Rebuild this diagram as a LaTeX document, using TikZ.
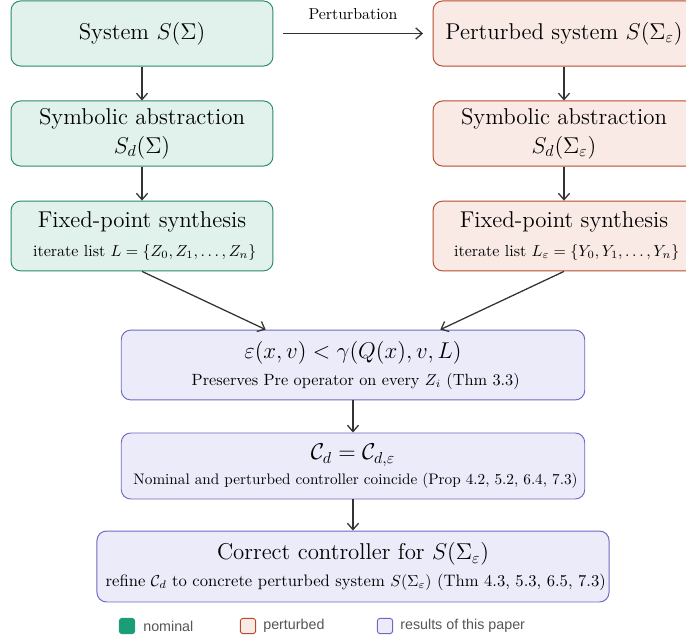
\documentclass[tikz,border=0pt]{standalone}
\usepackage{amsmath, amssymb}
\usepackage{fontspec}
\newfontfamily\legendfont{Liberation Sans}
\usepackage{tikz}
\usetikzlibrary{arrows.meta}

\definecolor{nomdraw}{HTML}{2A8A6A}
\definecolor{nomfill}{HTML}{E0F2EB}
\definecolor{nomsolid}{HTML}{1B9E77}
\definecolor{pertdraw}{HTML}{B84A2C}
\definecolor{pertfill}{HTML}{FAEAE5}
\definecolor{resdraw}{HTML}{6F68C4}
\definecolor{resfill}{HTML}{ECEBFA}
\definecolor{arrowgray}{HTML}{333333}
\definecolor{legendgray}{HTML}{555555}

\tikzset{
    box/.style={rounded corners=6pt, line width=0.6pt, align=center, inner sep=0pt},
    nombox/.style={box, draw=nomdraw, fill=nomfill, minimum width=165pt},
    pertbox/.style={box, draw=pertdraw, fill=pertfill, minimum width=165pt},
    resbox/.style={box, draw=resdraw, fill=resfill},
    flow/.style={-{Straight Barb[length=4pt,width=7pt]}, draw=arrowgray, line width=0.8pt},
    legbox/.style={rounded corners=1.5pt, line width=0.6pt, minimum size=9.5pt, inner sep=0pt},
    legtext/.style={anchor=west, text=legendgray, font=\legendfont\small, inner sep=0pt}
}
\newcommand{\subsize}[1]{\fontsize{#1}{12pt}\selectfont}

\begin{document}
\begin{tikzpicture}[x=0.63pt,y=-0.63pt]
        \useasboundingbox (0,0) rectangle (686,639);

        % left column: nominal
        \node[nombox, minimum height=41pt] (sys) at (142,33.5) {\Large System $S(\Sigma)$};
        \node[nombox, minimum height=41pt] (abs) at (142,133.5) {\Large Symbolic abstraction\\[3.5pt] \Large $S_d(\Sigma)$};
        \node[nombox, minimum height=44pt] (fix) at (142,236) {\Large Fixed-point synthesis\\[6pt] \subsize{10.1pt} iterate list $L=\{Z_0,Z_1,\ldots,Z_n\}$};

        % right column: perturbed
        \node[pertbox, minimum height=41pt] (sysE) at (564,33.5) {\Large Perturbed system $S(\Sigma_\varepsilon)$};
        \node[pertbox, minimum height=41pt] (absE) at (564,133.5) {\Large Symbolic abstraction\\[3.5pt] \Large $S_d(\Sigma_\varepsilon)$};
        \node[pertbox, minimum height=44pt] (fixE) at (564,236) {\Large Fixed-point synthesis\\[6pt] \subsize{10.1pt} iterate list $L_\varepsilon=\{Y_0,Y_1,\ldots,Y_n\}$};

        % middle: results
        \node[resbox, minimum width=292pt, minimum height=44pt] (cond) at (353,365) {\Large $\varepsilon(x,v)<\gamma(Q(x),v,L)$\\[5pt] \subsize{10.25pt} Preserves Pre operator on every $Z_i$ (Thm 3.3)};
        \node[resbox, minimum width=292pt, minimum height=41.6pt] (coin) at (353,466) {\Large $\mathcal{C}_d=\mathcal{C}_{d,\varepsilon}$\\[3.5pt] \subsize{9.6pt} Nominal and perturbed controller coincide (Prop 4.2, 5.2, 6.4, 7.3)};
        \node[resbox, minimum width=322.6pt, minimum height=44.7pt] (corr) at (353,566.5) {\Large Correct controller for $S(\Sigma_\varepsilon)$\\[4.5pt] \subsize{10.45pt} refine $\mathcal{C}_d$ to concrete perturbed system $S(\Sigma_\varepsilon)$ (Thm 4.3, 5.3, 6.5, 7.3)};

        \draw[flow, shorten <=6pt, shorten >=6pt] (sys)--node[above=5pt]{Perturbation}(sysE);
        \draw[flow] (sys)--(abs);
        \draw[flow] (abs)--(fix);
        \draw[flow] (sysE)--(absE);
        \draw[flow] (absE)--(fixE);
        \draw[flow] (fix.south)--([xshift=-55pt]cond.north);
        \draw[flow] (fixE.south)--([xshift=55pt]cond.north);
        \draw[flow] (cond)--(coin);
        \draw[flow] (coin)--(corr);

        % legend
        \node[legbox, draw=nomsolid, fill=nomsolid] (lnom) at (127,626) {};
        \node[legtext] (tnom) at (143,626) {nominal};
        \node[legbox, draw=pertdraw, fill=pertfill] (lpert) at (248,626) {};
        \node[legtext] (tpert) at (263,626) {perturbed};
        \node[legbox, draw=resdraw, fill=resfill] (lres) at (385,626) {};
        \node[legtext] (tres) at (400,626) {results of this paper};
    \end{tikzpicture}
\end{document}
